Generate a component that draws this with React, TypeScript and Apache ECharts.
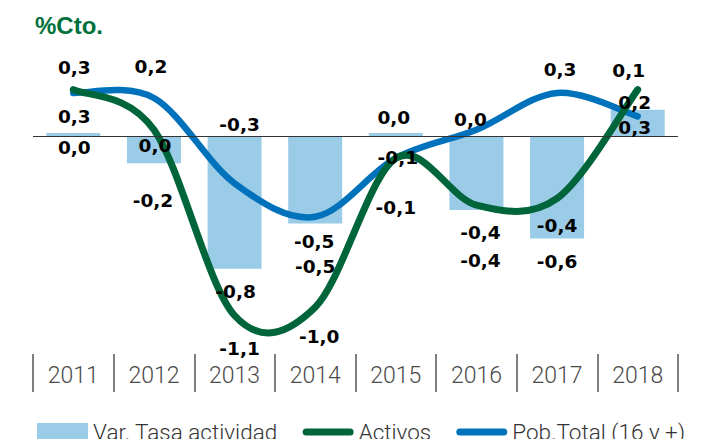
import React, { useEffect, useRef } from "react";
import * as echarts from "echarts";

// ---- data ----
const years = ["2011", "2012", "2013", "2014", "2015", "2016", "2017", "2018"];
const tasaActividad = [0.02, -0.16, -0.79, -0.52, 0.02, -0.44, -0.61, 0.16];
const activos = [0.28, 0.04, -1.07, -1.02, -0.13, -0.41, -0.37, 0.28];
const pobTotal = [0.26, 0.23, -0.28, -0.48, -0.13, 0.04, 0.26, 0.12];

const seriesNames = ["Var. Tasa actividad", "Activos", "Pob.Total (16 y +)"];
const titleText = "%Cto.";

// ---- layout of the value labels (pixel offsets from their default spot) ----
const tasaLabelOffsets = [[1, 13], [-1, 51], [1, 89], [-1, 62], [-2, -17], [4, 59], [0, 74], [-3, -21]];
const activosLabelOffsets = [[1, -22], [1, 16], [5, 33], [4, 29], [2, -1], [4, 55], [0, 27], [-3, 38]];
const pobLabelOffsets = [[1, 24], [-3, -31], [5, -59], [0, 50], [0, 49], [-6, -10], [3, -23], [-9, -46]];

const GREEN = "#00653A";
const BLUE = "#0072BC";
const LIGHTBLUE = "#9ACBE7";

const fmt = (v: number) => v.toFixed(1).replace(".", ",");

const valueLabel = {
  show: true,
  position: "inside",
  fontFamily: "DejaVu Sans",
  fontWeight: "bold",
  fontSize: 18.5,
  color: "#000",
  opacity: 1,
  textBorderWidth: 0,
  formatter: (p: any) => fmt(Number(p.value)),
};

const withOffsets = (vals: number[], offs: number[][]) =>
  vals.map((v, i) => ({ value: v, label: { offset: offs[i] } }));

const lineIcon =
  "path://M0,0L0.01,0L0,0.01Z M51,17L50.99,17L51,16.99Z M3.5,5.5L47.5,5.5A3.5,3.5,0,0,1,47.5,12.5L3.5,12.5A3.5,3.5,0,0,1,3.5,5.5Z";

// Catmull-Rom style smooth curve through the axis-mapped points
function curveSeries(vals: number[], color: string, width: number) {
  return {
    type: "custom",
    silent: true,
    z: 3,
    data: vals.map((v, i) => [i, v]),
    encode: { x: 0, y: 1 },
    renderItem: (params: any, api: any) => {
      if (params.dataIndex !== 0) return null;
      const pts = vals.map((v, i) => api.coord([i, v]));
      const n = pts.length;
      const P = (k: number) => pts[Math.max(0, Math.min(n - 1, k))];
      let d = `M${pts[0][0]},${pts[0][1]}`;
      for (let i = 0; i < n - 1; i++) {
        const p0 = P(i - 1), p1 = P(i), p2 = P(i + 1), p3 = P(i + 2);
        const c1x = p1[0] + (p2[0] - p0[0]) / 6;
        const c1y = p1[1] + (p2[1] - p0[1]) / 6;
        const c2x = p2[0] - (p3[0] - p1[0]) / 6;
        const c2y = p2[1] - (p3[1] - p1[1]) / 6;
        d += ` C${c1x},${c1y} ${c2x},${c2y} ${p2[0]},${p2[1]}`;
      }
      return {
        type: "path",
        shape: { pathData: d },
        style: { fill: "none", stroke: color, lineWidth: width, lineCap: "round", lineJoin: "round" },
      };
    },
  };
}

export default function App() {
  const ref = useRef<HTMLDivElement>(null);
  useEffect(() => {
    document.body.style.margin = "0";
    if (!ref.current) return;
    const chart = echarts.init(ref.current, undefined, { renderer: "svg" });
    const option: any = {
      animation: false,
      title: {
        text: titleText,
        left: 35,
        top: 13,
        padding: 0,
        textStyle: { fontFamily: "Liberation Sans", fontWeight: "bold", fontSize: 24, color: "#00703C" },
      },
      legend: {
        left: 37,
        top: 420,
        padding: 0,
        itemWidth: 51,
        itemHeight: 17,
        itemGap: 25,
        selectedMode: false,
        textStyle: { fontFamily: "Roboto", fontWeight: 300, fontSize: 22.5, color: "#333" },
        data: [
          { name: seriesNames[0], icon: "rect", itemStyle: { color: LIGHTBLUE, borderWidth: 0, opacity: 1 } },
          { name: seriesNames[1], icon: lineIcon, itemStyle: { color: GREEN, borderWidth: 0, opacity: 1 } },
          { name: seriesNames[2], icon: lineIcon, itemStyle: { color: BLUE, borderWidth: 0, opacity: 1 } },
        ],
      },
      grid: { left: 33, right: 34, top: 52.8, bottom: 85, containLabel: false },
      xAxis: {
        type: "category",
        data: years,
        boundaryGap: true,
        axisLine: { show: false, onZero: false },
        axisTick: { show: true, interval: 0, length: 38, lineStyle: { color: "#555", width: 1.5 } },
        axisLabel: {
          interval: 0,
          margin: 10,
          fontFamily: "Roboto",
          fontWeight: 300,
          fontSize: 23,
          color: "#4a4a4a",
        },
        splitLine: { show: false },
      },
      yAxis: { type: "value", min: -1.3, max: 0.5, show: false },
      series: [
        {
          name: seriesNames[0],
          type: "bar",
          barWidth: 54,
          barGap: "-100%",
          z: 2,
          itemStyle: { color: LIGHTBLUE },
          data: tasaActividad,
          markLine: {
            silent: true,
            symbol: "none",
            label: { show: false },
            lineStyle: { color: "#333", width: 1, type: "solid" },
            data: [{ yAxis: 0 }],
          },
        },
        curveSeries(pobTotal, BLUE, 6.5),
        curveSeries(activos, GREEN, 7),
        {
          // value labels of the bars, drawn above the curves
          name: "tasaLabels",
          type: "bar",
          barWidth: 54,
          barGap: "-100%",
          z: 5,
          silent: true,
          itemStyle: { color: "rgba(0,0,0,0)" },
          label: valueLabel,
          data: withOffsets(tasaActividad, tasaLabelOffsets),
        },
        {
          name: seriesNames[2],
          type: "line",
          z: 5,
          symbol: "circle",
          symbolSize: 0.5,
          showSymbol: true,
          itemStyle: { color: BLUE },
          lineStyle: { color: BLUE, width: 0, opacity: 0 },
          label: valueLabel,
          data: withOffsets(pobTotal, pobLabelOffsets),
        },
        {
          name: seriesNames[1],
          type: "line",
          z: 5,
          symbol: "circle",
          symbolSize: 0.5,
          showSymbol: true,
          itemStyle: { color: GREEN },
          lineStyle: { color: GREEN, width: 0, opacity: 0 },
          label: valueLabel,
          data: withOffsets(activos, activosLabelOffsets),
        },
      ],
    };
    chart.setOption(option);
    return () => chart.dispose();
  }, []);
  return <div ref={ref} style={{ width: 712, height: 439 }} />;
}
